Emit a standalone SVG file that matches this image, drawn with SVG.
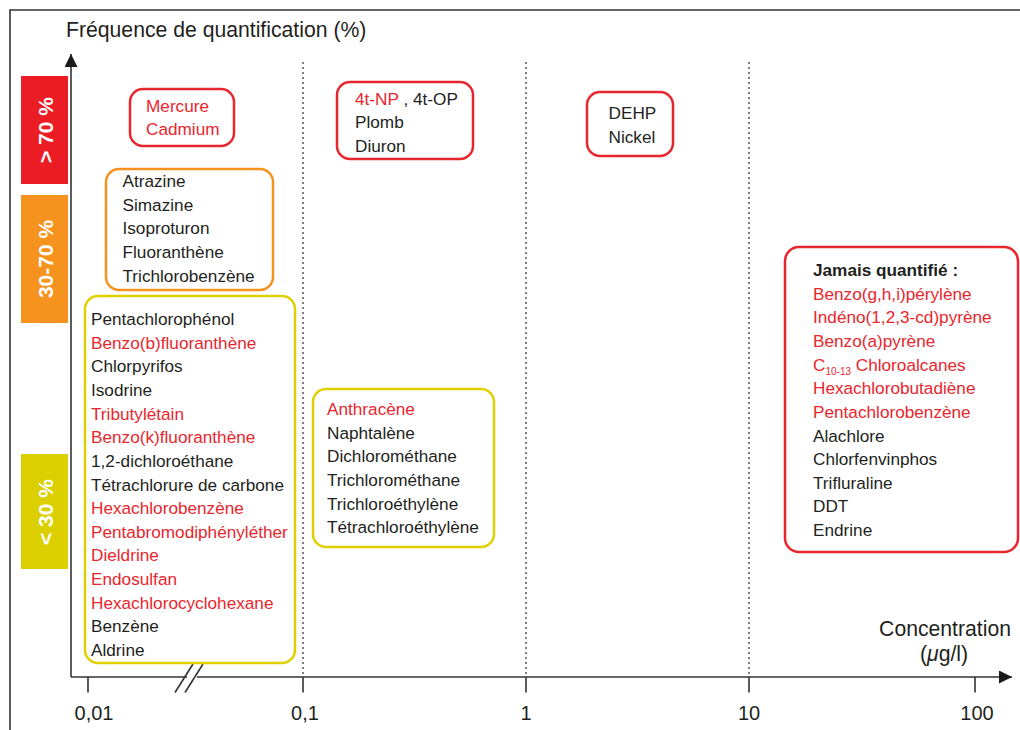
<svg xmlns="http://www.w3.org/2000/svg" width="1020" height="730" viewBox="0 0 1020 730">
<style>
text{font-family:"Liberation Sans",Arial,sans-serif;fill:#231f20}
.t{font-size:17.2px}
.r{fill:#e8262d}
.ax{font-size:21.2px}
.tk{font-size:20px;text-anchor:middle}
.bar{font-size:21px;font-weight:bold;fill:#fff;text-anchor:middle}
.box{fill:#fff;stroke-width:2.5}
.red{stroke:#e8262d}
.org{stroke:#f6921e}
.yel{stroke:#e0d000}
.dot{stroke:#555;stroke-width:1.5;stroke-dasharray:2 3;fill:none}
.line{stroke:#333;stroke-width:1.6;fill:none}
</style>
<defs>
<marker id="ah" viewBox="0 0 10 10" refX="10" refY="5" markerWidth="13" markerHeight="13" markerUnits="userSpaceOnUse" orient="auto">
<path d="M0,0 L10,5 L0,10 z" fill="#1a1a1a"/>
</marker>
</defs>
<rect width="1020" height="730" fill="#fff"/>
<path class="line" d="M10,730 V10 H1020" stroke="#3a3a3a"/>

<g id="axes">
<line class="dot" x1="303" y1="62" x2="303" y2="677"/>
<line class="dot" x1="526" y1="62" x2="526" y2="677"/>
<line class="dot" x1="749" y1="62" x2="749" y2="677"/>
<line class="line" x1="71" y1="677" x2="71" y2="54" marker-end="url(#ah)"/>
<line class="line" x1="71" y1="677" x2="187" y2="677"/>
<line class="line" x1="197" y1="677" x2="1012" y2="677" marker-end="url(#ah)"/>
<line class="line" x1="175" y1="692.5" x2="193" y2="664"/>
<line class="line" x1="185" y1="692.5" x2="203" y2="664"/>
<line class="line" x1="88" y1="677" x2="88" y2="692.5"/>
<line class="line" x1="303" y1="677" x2="303" y2="692.5"/>
<line class="line" x1="526" y1="677" x2="526" y2="692.5"/>
<line class="line" x1="749" y1="677" x2="749" y2="692.5"/>
<line class="line" x1="975" y1="677" x2="975" y2="692.5"/>
<text class="tk" x="94" y="720">0,01</text>
<text class="tk" x="305" y="720">0,1</text>
<text class="tk" x="526" y="720">1</text>
<text class="tk" x="749" y="720">10</text>
<text class="tk" x="977" y="720">100</text>
<text class="ax" x="66" y="36.5">Fréquence de quantification (%)</text>
<text class="ax" x="1011" y="636" text-anchor="end">Concentration</text>
<text class="ax" x="920" y="661">(<tspan font-style="italic">μ</tspan>g/l)</text>
</g>

<g id="bar-high">
<rect x="21" y="76" width="47" height="108" fill="#ec1c24"/>
<text class="bar" transform="translate(53,130) rotate(-90)">&gt; 70 %</text>
</g>
<g id="bar-mid">
<rect x="21" y="195" width="47" height="128" fill="#f6921e"/>
<text class="bar" transform="translate(53,259) rotate(-90)">30-70 %</text>
</g>
<g id="bar-low">
<rect x="21" y="454" width="47" height="115" fill="#dccf00"/>
<text class="bar" transform="translate(53,512) rotate(-90)">&lt; 30 %</text>
</g>

<g id="box-mercure">
<rect class="box red" x="130" y="89" width="104" height="57" rx="13"/>
<text class="t r" x="146" y="112">Mercure</text>
<text class="t r" x="146" y="135">Cadmium</text>
</g>

<g id="box-np">
<rect class="box red" x="337" y="82" width="136" height="77" rx="13"/>
<text class="t" x="355" y="105"><tspan class="r">4t-NP</tspan> , 4t-OP</text>
<text class="t" x="355" y="128.3">Plomb</text>
<text class="t" x="355" y="151.7">Diuron</text>
</g>

<g id="box-dehp">
<rect class="box red" x="587" y="92" width="86" height="64" rx="13"/>
<text class="t" x="608.5" y="119.3">DEHP</text>
<text class="t" x="608.5" y="142.7">Nickel</text>
</g>

<g id="box-orange">
<rect class="box org" x="106" y="169" width="167" height="121" rx="13"/>
<text class="t" x="122.5" y="187">Atrazine</text>
<text class="t" x="122.5" y="210.6">Simazine</text>
<text class="t" x="122.5" y="234.3">Isoproturon</text>
<text class="t" x="122.5" y="258">Fluoranthène</text>
<text class="t" x="122.5" y="281.7">Trichlorobenzène</text>
</g>

<g id="box-yellow-left">
<rect class="box yel" x="85" y="296" width="210" height="367" rx="13"/>
<text class="t" x="91" y="325">Pentachlorophénol</text>
<text class="t r" x="91" y="348.6">Benzo(b)fluoranthène</text>
<text class="t" x="91" y="372.3">Chlorpyrifos</text>
<text class="t" x="91" y="395.9">Isodrine</text>
<text class="t r" x="91" y="419.6">Tributylétain</text>
<text class="t r" x="91" y="443.2">Benzo(k)fluoranthène</text>
<text class="t" x="91" y="466.9">1,2-dichloroéthane</text>
<text class="t" x="91" y="490.5">Tétrachlorure de carbone</text>
<text class="t r" x="91" y="514.1">Hexachlorobenzène</text>
<text class="t r" x="91" y="537.8">Pentabromodiphényléther</text>
<text class="t r" x="91" y="561.4">Dieldrine</text>
<text class="t r" x="91" y="585.1">Endosulfan</text>
<text class="t r" x="91" y="608.7">Hexachlorocyclohexane</text>
<text class="t" x="91" y="632.4">Benzène</text>
<text class="t" x="91" y="656">Aldrine</text>
</g>

<g id="box-yellow-mid">
<rect class="box yel" x="313" y="389" width="181" height="158" rx="13"/>
<text class="t r" x="327" y="415">Anthracène</text>
<text class="t" x="327" y="438.7">Naphtalène</text>
<text class="t" x="327" y="462.3">Dichlorométhane</text>
<text class="t" x="327" y="486">Trichlorométhane</text>
<text class="t" x="327" y="509.6">Trichloroéthylène</text>
<text class="t" x="327" y="533.3">Tétrachloroéthylène</text>
</g>

<g id="box-never">
<rect class="box red" x="785" y="247" width="233" height="305" rx="14"/>
<text class="t" x="813" y="276" font-weight="bold">Jamais quantifié :</text>
<text class="t r" x="813" y="299.6">Benzo(g,h,i)pérylène</text>
<text class="t r" x="813" y="323.3">Indéno(1,2,3-cd)pyrène</text>
<text class="t r" x="813" y="346.9">Benzo(a)pyrène</text>
<text class="t r" x="813" y="370.5">C<tspan font-size="10" dy="4">10-13</tspan><tspan dy="-4"> Chloroalcanes</tspan></text>
<text class="t r" x="813" y="394.2">Hexachlorobutadiène</text>
<text class="t r" x="813" y="417.8">Pentachlorobenzène</text>
<text class="t" x="813" y="441.5">Alachlore</text>
<text class="t" x="813" y="465.1">Chlorfenvinphos</text>
<text class="t" x="813" y="488.7">Trifluraline</text>
<text class="t" x="813" y="512.4">DDT</text>
<text class="t" x="813" y="536">Endrine</text>
</g>
</svg>
